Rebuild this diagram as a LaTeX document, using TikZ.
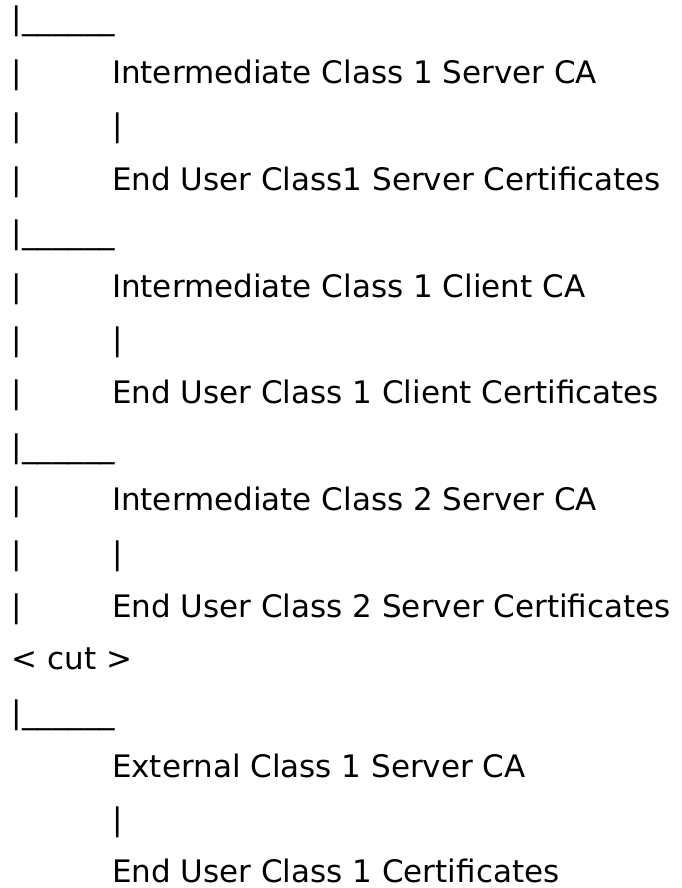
\documentclass[tikz,border=0pt]{standalone}
\usepackage{fontspec}
\setmainfont{DejaVu Sans}
\begin{document}
\begin{tikzpicture}[x=1pt,y=-1pt,
  txt/.style={anchor=base west, inner sep=0pt, outer sep=0pt, text=black,
              font=\fontsize{31}{37}\selectfont}]
\useasboundingbox (0,0) rectangle (682,888);
% row 1
\node[txt] (r1)  at (12,30)    {|\_\_\_\_\_\_};
% row 2
\node[txt] (b2)  at (12,83.4)  {|};
\node[txt] (t2)  at (112,83.4) {Intermediate Class 1 Server CA};
% row 3
\node[txt] (b3)  at (12,136.8) {|};
\node[txt] (c3)  at (112,136.8) {|};
% row 4
\node[txt] (b4)  at (12,190.2) {|};
\node[txt] (t4)  at (112,190.2) {End User Class1 Server Certificates};
% row 5
\node[txt] (r5)  at (12,243.6) {|\_\_\_\_\_\_};
% row 6
\node[txt] (b6)  at (12,297)   {|};
\node[txt] (t6)  at (112,297)  {Intermediate Class 1 Client CA};
% row 7
\node[txt] (b7)  at (12,350.4) {|};
\node[txt] (c7)  at (112,350.4) {|};
% row 8
\node[txt] (b8)  at (12,403.8) {|};
\node[txt] (t8)  at (112,403.8) {End User Class 1 Client Certificates};
% row 9
\node[txt] (r9)  at (12,457.2) {|\_\_\_\_\_\_};
% row 10
\node[txt] (b10) at (12,510.6) {|};
\node[txt] (t10) at (112,510.6) {Intermediate Class 2 Server CA};
% row 11
\node[txt] (b11) at (12,564)   {|};
\node[txt] (c11) at (112,564)  {|};
% row 12
\node[txt] (b12) at (12,617.4) {|};
\node[txt] (t12) at (112,617.4) {End User Class 2 Server Certificates};
% row 13
\node[txt] (cut) at (12,669.5) {< cut >};
% row 14
\node[txt] (r14) at (12,723.5) {|\_\_\_\_\_\_};
% row 15
\node[txt] (t15) at (112,777) {External Class 1 Server CA};
% row 16
\node[txt] (c16) at (112,830)  {|};
% row 17
\node[txt, text depth=0pt] (t17) at (112,882.5) {End User Class 1 Certificates};
\end{tikzpicture}
\end{document}
